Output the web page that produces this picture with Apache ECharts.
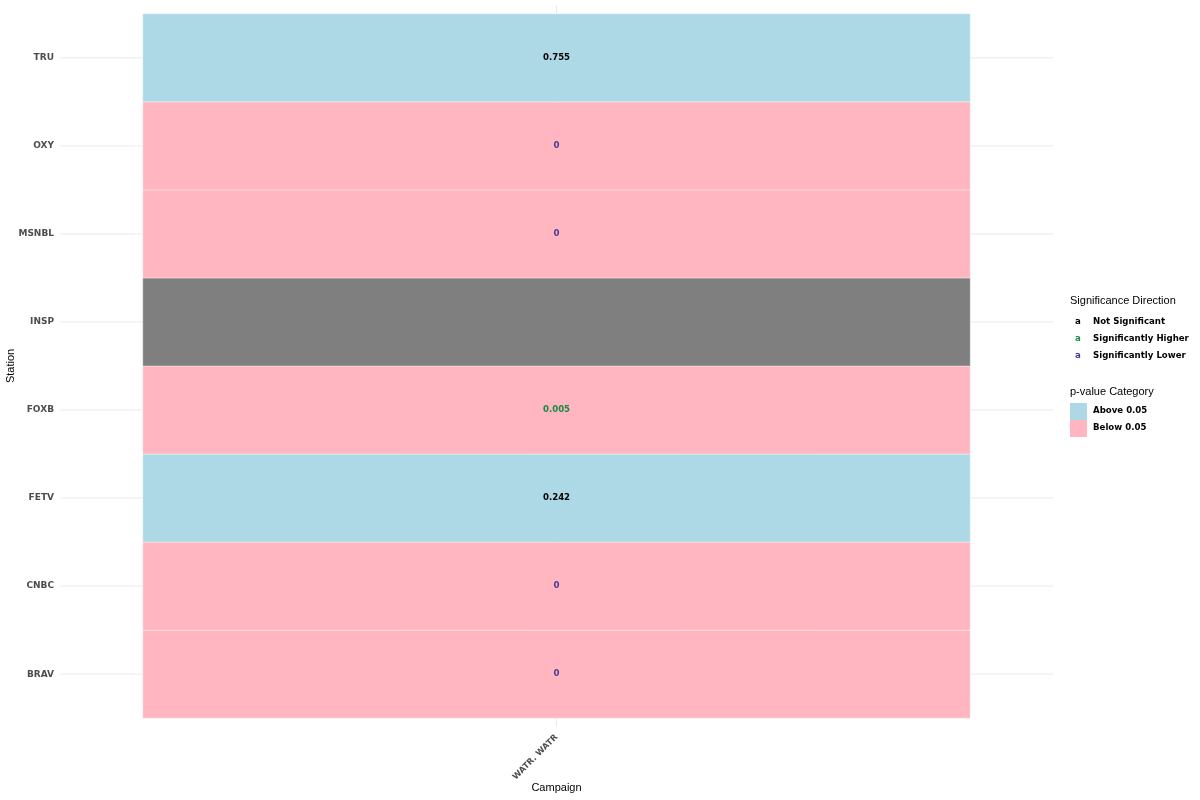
<!DOCTYPE html>
<html>
<head>
<meta charset="utf-8">
<script src="https://cdn.jsdelivr.net/npm/echarts@6/dist/echarts.min.js"></script>
<style>html,body{margin:0;padding:0;background:#fff}#c{width:1200px;height:800px}</style>
</head>
<body>
<div id="c"></div>
<script>
// Data (bottom to top)
var stations = ['BRAV', 'CNBC', 'FETV', 'FOXB', 'INSP', 'MSNBL', 'OXY', 'TRU'];
var pValues = [0, 0, 0.242, 0.005, null, 0, 0, 0.755];
var directions = ['Significantly Lower', 'Significantly Lower', 'Not Significant', 'Significantly Higher', null, 'Significantly Lower', 'Significantly Lower', 'Not Significant'];
var campaigns = ['WATR. WATR'];
var directionLevels = ['Not Significant', 'Significantly Higher', 'Significantly Lower'];
var pCategoryLevels = ['Above 0.05', 'Below 0.05'];

var dirColors = {'Not Significant': '#000000', 'Significantly Higher': '#1B8A45', 'Significantly Lower': '#463C98'};
var fillColors = {'Above 0.05': '#ADD8E6', 'Below 0.05': '#FFB6C1'};
var naColor = '#7F7F7F';

function pCat(v) { return v === null ? null : (v > 0.05 ? 'Above 0.05' : 'Below 0.05'); }

var tileData = stations.map(function (s, i) {
  return [1, i + 1, pValues[i], i];
});
var stationPos = stations.map(function (s, i) { return i + 1; });
var campaignPos = campaigns.map(function (c, i) { return i + 1; });

var chart = echarts.init(document.getElementById('c'));
var gridColor = '#EBEBEB';
var titleFont = '11px "Liberation Sans", Arial, sans-serif';
var boldFont = 'bold 8.6px "DejaVu Sans", sans-serif';

var legendGraphics = [];
var lx = 1070;
legendGraphics.push({type: 'text', left: lx, top: 295, style: {text: 'Significance Direction', font: titleFont, fill: '#000'}});
directionLevels.forEach(function (d, i) {
  var y = 322 + i * 17;
  legendGraphics.push({type: 'text', left: 1075, top: y - 5, style: {text: 'a', font: boldFont, fill: dirColors[d]}});
  legendGraphics.push({type: 'text', left: 1093, top: y - 5, style: {text: d, font: boldFont, fill: '#000'}});
});
legendGraphics.push({type: 'text', left: lx, top: 386, style: {text: 'p-value Category', font: titleFont, fill: '#000'}});
pCategoryLevels.forEach(function (c, i) {
  var y = 403 + i * 17;
  legendGraphics.push({type: 'rect', left: lx, top: y, shape: {width: 17, height: 17}, style: {fill: fillColors[c]}});
  legendGraphics.push({type: 'text', left: 1093, top: y + 3.5, style: {text: c, font: boldFont, fill: '#000'}});
});

chart.setOption({
  animation: false,
  backgroundColor: '#ffffff',
  grid: {left: 60, right: 147, top: 5, bottom: 73, containLabel: false, outerBoundsMode: 'none'},
  xAxis: {
    type: 'value', min: 0.4, max: 1.6,
    name: 'Campaign', nameLocation: 'middle', nameGap: 55, nameMoveOverlap: false,
    nameTextStyle: {color: '#000', fontSize: 11, fontFamily: 'Liberation Sans'},
    axisLine: {show: false}, axisTick: {show: false}, splitLine: {show: false},
    axisLabel: {
      customValues: campaignPos, rotate: 45, margin: 9,
      color: '#4D4D4D', fontSize: 8.4, fontWeight: 'bold', fontFamily: 'DejaVu Sans',
      formatter: function (v) { return campaigns[Math.round(v) - 1] || ''; }
    }
  },
  yAxis: {
    type: 'value', min: 0.4, max: 8.6,
    name: 'Station', nameLocation: 'middle', nameGap: 44, nameRotate: 90, nameMoveOverlap: false,
    nameTextStyle: {color: '#000', fontSize: 11, fontFamily: 'Liberation Sans'},
    axisLine: {show: false}, axisTick: {show: false}, splitLine: {show: false},
    axisLabel: {
      customValues: stationPos, margin: 6,
      color: '#4D4D4D', fontSize: 9, fontWeight: 'bold', fontFamily: 'DejaVu Sans',
      formatter: function (v) { return stations[Math.round(v) - 1] || ''; }
    }
  },
  graphic: legendGraphics,
  series: [
    {
      type: 'custom', z: 1, silent: true,
      data: stationPos.map(function (p) { return [p]; }),
      renderItem: function (params, api) {
        var y = api.coord([1, api.value(0)])[1];
        var cs = params.coordSys;
        return {type: 'line', shape: {x1: cs.x, y1: y, x2: cs.x + cs.width, y2: y}, style: {stroke: gridColor, lineWidth: 1}};
      }
    },
    {
      type: 'custom', z: 1, silent: true,
      data: campaignPos.map(function (p) { return [p]; }),
      renderItem: function (params, api) {
        var x = api.coord([api.value(0), 1])[0];
        var cs = params.coordSys;
        return {type: 'line', shape: {x1: x, y1: cs.y, x2: x, y2: cs.y + cs.height}, style: {stroke: gridColor, lineWidth: 1}};
      }
    },
    {
      type: 'custom', z: 2,
      data: tileData,
      renderItem: function (params, api) {
        var i = api.value(3);
        var p0 = api.coord([api.value(0) - 0.5, api.value(1) + 0.5]);
        var p1 = api.coord([api.value(0) + 0.5, api.value(1) - 0.5]);
        var v = pValues[i];
        var cat = pCat(v);
        var fill = cat ? fillColors[cat] : naColor;
        var children = [{
          type: 'rect',
          shape: {x: p0[0], y: p0[1], width: p1[0] - p0[0], height: p1[1] - p0[1]},
          style: {fill: fill, stroke: 'rgba(255,255,255,0.6)', lineWidth: 0.6}
        }];
        if (v !== null) {
          var c = api.coord([api.value(0), api.value(1)]);
          children.push({
            type: 'text',
            x: c[0], y: c[1],
            style: {text: String(v), align: 'center', verticalAlign: 'middle', fill: dirColors[directions[i]], font: 'bold 8.6px "DejaVu Sans", sans-serif'}
          });
        }
        return {type: 'group', children: children};
      }
    }
  ]
});
</script>
</body>
</html>
